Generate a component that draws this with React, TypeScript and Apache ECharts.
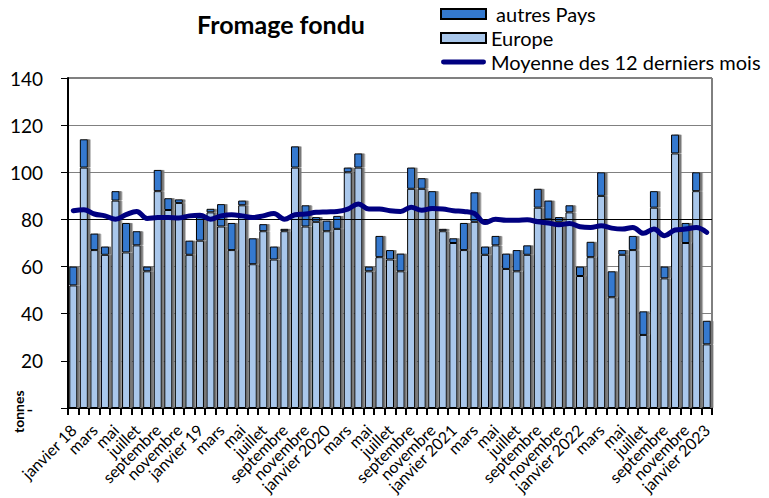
import React, { useEffect, useRef } from "react";
import * as echarts from "echarts";

const categories = [
  "janvier 18", "février", "mars", "avril", "mai", "juin", "juillet", "août", "septembre", "octobre", "novembre", "décembre",
  "janvier 19", "février", "mars", "avril", "mai", "juin", "juillet", "août", "septembre", "octobre", "novembre", "décembre",
  "janvier 2020", "février", "mars", "avril", "mai", "juin", "juillet", "août", "septembre", "octobre", "novembre", "décembre",
  "janvier 2021", "février", "mars", "avril", "mai", "juin", "juillet", "août", "septembre", "octobre", "novembre", "décembre",
  "janvier 2022", "février", "mars", "avril", "mai", "juin", "juillet", "août", "septembre", "octobre", "novembre", "décembre",
  "janvier 2023",
];

const europe = [
  52, 102, 67, 65, 88, 66, 69, 58, 92, 84, 87, 65,
  71, 83, 77, 67, 86, 61, 75, 63, 75, 102, 77, 79,
  75, 76, 100, 102, 58, 64, 63, 58, 93, 93, 85, 75,
  70, 67, 79, 65, 69, 59, 58, 65, 85, 80, 79, 83,
  56, 64, 90, 47, 65, 67, 31, 85, 55, 108, 70, 92,
  27,
];

const totals = [
  60, 114, 74, 68.5, 92, 78.5, 75, 60, 101, 89, 88.5, 71,
  81, 84.5, 86.5, 78.5, 88, 72, 78, 68.5, 76, 111, 86, 81,
  79.5, 81.5, 102, 108, 60, 73, 67, 65.5, 102, 97.5, 92, 76,
  72, 78.5, 91.5, 68.5, 73, 65.5, 67, 69, 93, 88, 81, 86,
  60, 70.5, 100, 58, 67, 73, 41, 92, 60, 116, 78.5, 100,
  37,
];

const autresPays = totals.map((t, i) => Math.round((t - europe[i]) * 10) / 10);

const moyenne = [
  83.7, 84.1, 82.3, 81.5, 80.1, 82, 83.4, 80.4, 80.8, 80.8, 80.6, 81.5,
  81.8, 80.1, 81.5, 82, 81.5, 80.8, 81.5, 82.5, 80.1, 82, 82.3, 83,
  83.2, 83.4, 84.4, 86.5, 84.4, 84.4, 83.7, 83.4, 85.2, 83.9, 84.6, 84.4,
  83.7, 83.4, 82.5, 78.7, 80.1, 79.7, 79.7, 79.9, 79, 78.5, 77.7, 78.3,
  76.9, 76.6, 77.3, 76.3, 75.9, 76.6, 74.1, 75.9, 73.1, 75.5, 75.9, 76.6,
  74.5,
];

const FONT = "Lato";
const LINE_ICON = "path://M2.5,0 L43.5,0 A2.5,2.5 0 0 1 43.5,5 L2.5,5 A2.5,2.5 0 0 1 2.5,0 Z";

export default function App() {
  const ref = useRef<HTMLDivElement>(null);
  useEffect(() => {
    document.body.style.margin = "0";
    if (!ref.current) return;
    const chart = echarts.init(ref.current, null, { renderer: "svg" });
    const barStyle = (color: string) => ({
      color,
      borderColor: "#000",
      borderWidth: 1,
      shadowColor: "#777",
      shadowOffsetX: 2.5,
      shadowOffsetY: 0,
      shadowBlur: 0,
    });
    chart.setOption({
      animation: false,
      textStyle: { fontFamily: FONT },
      title: {
        text: "Fromage fondu",
        left: 276,
        top: 6,
        textAlign: "center",
        textStyle: { fontFamily: FONT, fontWeight: "bold", fontSize: 25, color: "#000" },
      },
      legend: {
        orient: "vertical",
        left: 435,
        top: -1,
        itemWidth: 45,
        itemHeight: 10,
        itemGap: 4,
        data: [
          { name: "autres Pays", icon: "rect" },
          { name: "Europe", icon: "rect" },
          { name: "Moyenne des 12 derniers mois", icon: LINE_ICON, itemStyle: { color: "#000080", borderWidth: 0, shadowColor: "transparent" } },
        ],
        formatter: (n: string) => (n === "autres Pays" ? " " + n : n),
        textStyle: { fontFamily: FONT, fontSize: 20, lineHeight: 20, color: "#000" },
      },
      grid: {
        left: 68,
        right: 57,
        top: 78,
        bottom: 90,
        show: true,
        borderColor: "#000",
        borderWidth: 1,
        backgroundColor: "transparent",
      },
      xAxis: {
        type: "category",
        data: categories,
        axisLine: { lineStyle: { color: "#000", width: 2 } },
        axisTick: { show: true, interval: 0, length: 7, lineStyle: { color: "#000", width: 2 } },
        axisLabel: {
          interval: 0,
          rotate: 45,
          fontFamily: FONT,
          fontSize: 16,
          color: "#000",
          margin: 19,
          formatter: (v: string, i: number) => (i % 2 === 0 ? v : ""),
        },
      },
      yAxis: {
        type: "value",
        min: 0,
        max: 140,
        interval: 20,
        axisLine: { show: true, lineStyle: { color: "#000", width: 2 } },
        axisTick: { show: true, length: 7, lineStyle: { color: "#000", width: 1 } },
        axisLabel: {
          fontFamily: FONT,
          fontSize: 19,
          color: "#000",
          margin: 25,
          formatter: (v: number) => (v === 0 ? "-\u00a0\u00a0" : String(v)),
        },
        splitLine: { show: true, lineStyle: { color: "#808080", width: 1 } },
      },
      graphic: [
        {
          type: "text",
          x: 11,
          y: 433,
          rotation: Math.PI / 2,
          style: {
            text: "tonnes",
            fontFamily: FONT,
            fontWeight: "bold",
            fontSize: 14,
            fill: "#000",
          },
        },
      ],
      series: [
        {
          name: "Europe",
          type: "bar",
          stack: "t",
          data: europe,
          barWidth: 8,
          itemStyle: barStyle("#a9c7eb"),
          markLine: {
            silent: true,
            symbol: "none",
            label: { show: false },
            lineStyle: { color: "#000", width: 1, type: "solid" },
            data: [{ yAxis: 80 }],
          },
        },
        {
          name: "autres Pays",
          type: "bar",
          stack: "t",
          data: autresPays,
          barWidth: 8,
          itemStyle: barStyle("#3479cf"),
        },
        {
          name: "Moyenne des 12 derniers mois",
          type: "line",
          data: moyenne,
          smooth: 0.4,
          symbol: "none",
          lineStyle: { color: "#000080", width: 5, cap: "round" },
          itemStyle: { color: "#000080" },
          z: 5,
        },
      ],
    });
    return () => chart.dispose();
  }, []);
  return <div ref={ref} style={{ width: 769, height: 498 }} />;
}
